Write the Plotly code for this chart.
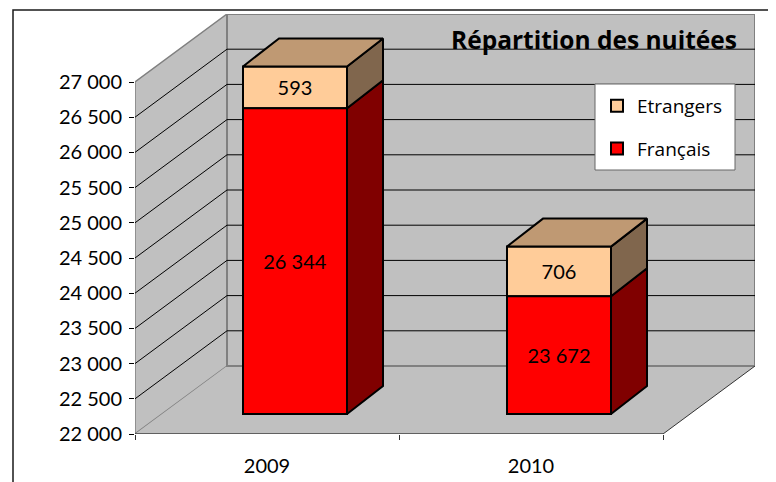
import plotly.graph_objects as go

years = ["2009", "2010"]
francais = [26344, 23672]
etrangers = [593, 706]
francais_labels = ["26 344", "23 672"]
etrangers_labels = ["593", "706"]
y_ticks = [22000, 22500, 23000, 23500, 24000, 24500, 25000, 25500, 26000, 26500, 27000]
y_labels = ["22 000", "22 500", "23 000", "23 500", "24 000", "24 500", "25 000", "25 500", "26 000", "26 500", "27 000"]

# The page keeps its 8 px body margin: the figure fills the rest of the window.
PAGE = 8
W, H = 776 - PAGE, 482 - PAGE
ML, MR, MT, MB = 135 - PAGE, 21, 14 - PAGE, 48
PW, PH = W - ML - MR, H - MT - MB
CAT_PX = 264.0
X_MAX = PW / CAT_PX
VAL_PER_PX = 5000 / 352.0
Y0, Y1 = 22000, 27000
Y_MAX = Y0 + PH * VAL_PER_PX

WALL_DX = X_MAX - 2
WALL_DY = Y_MAX - Y1
BAR_W = 104 / CAT_PX
BAR_DX = 36 / CAT_PX
BAR_DY = 28 * VAL_PER_PX
FRONT_DX = 28 / CAT_PX
FRONT_DY = 20 * VAL_PER_PX
BASE = Y0 + FRONT_DY

WALL = "#C0C0C0"
EDGE = "#808080"
FR, FR_SIDE = "#FF0000", "#800000"
ET, ET_SIDE, ET_TOP = "#FFCC99", "#80664D", "#BF9973"
FONT = "Lato"


def px_x(p):
    return (p - PAGE - ML) / PW


def px_y(p):
    return 1 - (p - PAGE - MT) / PH


def path(points):
    return "M " + " L ".join(f"{x},{y}" for x, y in points) + " Z"


shapes = [
    dict(type="path", xref="x", yref="y", layer="below", fillcolor=WALL, line=dict(color=EDGE, width=1.5),
         path=path([(0, Y0), (WALL_DX, Y0 + WALL_DY), (WALL_DX, Y1 + WALL_DY), (0, Y1)])),
    dict(type="path", xref="x", yref="y", layer="below", fillcolor=WALL, line=dict(width=0),
         path=path([(0, Y0), (2, Y0), (2 + WALL_DX, Y0 + WALL_DY), (WALL_DX, Y0 + WALL_DY)])),
    dict(type="rect", xref="x", yref="y", layer="below", fillcolor=WALL, line=dict(color=EDGE, width=2),
         x0=WALL_DX, x1=2 + WALL_DX, y0=Y0 + WALL_DY, y1=Y1 + WALL_DY),
]
for v in y_ticks[1:-1]:
    shapes.append(dict(type="path", xref="x", yref="y", layer="below", line=dict(color="#000000", width=1),
                       path=f"M 0,{v} L {WALL_DX},{v + WALL_DY} L {2 + WALL_DX},{v + WALL_DY}"))
shapes += [
    dict(type="line", xref="x", yref="y", layer="below", line=dict(color="#000000", width=1),
         x0=0, x1=2, y0=Y0, y1=Y0),
    dict(type="line", xref="x", yref="y", layer="below", line=dict(color="#333333", width=1),
         x0=2, x1=2 + WALL_DX, y0=Y0, y1=Y0 + WALL_DY),
    dict(type="rect", xref="x", yref="y", layer="below", fillcolor="#FFFFFF",
         line=dict(color="#666666", width=1),
         x0=px_x(595) * X_MAX, x1=px_x(735) * X_MAX,
         y0=Y0 + px_y(170) * (Y_MAX - Y0), y1=Y0 + px_y(84) * (Y_MAX - Y0)),
    dict(type="path", xref="paper", yref="paper", layer="above", line=dict(color="#1a1a1a", width=1.5),
         path=f"M {px_x(13)},{px_y(482)} L {px_x(13)},{px_y(10)} L {px_x(776)},{px_y(10)}"),
]

centers = [i + 0.5 + FRONT_DX for i in range(2)]

fig = go.Figure()
fig.add_trace(go.Bar(
    name="Etrangers", legendgroup="et", x=centers, y=etrangers, base=[BASE + v - Y0 for v in francais], width=BAR_W,
    marker=dict(color=ET, line=dict(color="#000000", width=2)),
    text=etrangers_labels, textposition="inside", insidetextanchor="middle", textangle=0,
    insidetextfont=dict(color="#000000", size=20, family=FONT),
))
fig.add_trace(go.Bar(
    name="Français", legendgroup="fr", x=centers, y=[v - Y0 for v in francais], base=BASE, width=BAR_W,
    marker=dict(color=FR, line=dict(color="#000000", width=2)),
    text=francais_labels, textposition="inside", insidetextanchor="middle", textangle=0,
    insidetextfont=dict(color="#000000", size=20, family=FONT),
))


def face(points, color):
    xs = [p[0] for p in points] + [points[0][0]]
    ys = [p[1] for p in points] + [points[0][1]]
    fig.add_trace(go.Scatter(x=xs, y=ys, mode="lines", fill="toself", fillcolor=color,
                             line=dict(color="#000000", width=2), showlegend=False, hoverinfo="skip"))


for c, f, e in zip(centers, francais, etrangers):
    xr = c + BAR_W / 2
    xl = c - BAR_W / 2
    y_f = BASE + f - Y0
    y_t = y_f + e
    face([(xr, BASE), (xr + BAR_DX, BASE + BAR_DY), (xr + BAR_DX, y_f + BAR_DY), (xr, y_f)], FR_SIDE)
    face([(xr, y_f), (xr + BAR_DX, y_f + BAR_DY), (xr + BAR_DX, y_t + BAR_DY), (xr, y_t)], ET_SIDE)
    face([(xl, y_t), (xr, y_t), (xr + BAR_DX, y_t + BAR_DY), (xl + BAR_DX, y_t + BAR_DY)], ET_TOP)

fig.update_layout(
    width=W, height=H, autosize=False,
    margin=dict(l=ML, r=MR, t=MT, b=MB, pad=0),
    paper_bgcolor="#FFFFFF", plot_bgcolor="rgba(0,0,0,0)",
    barmode="overlay", shapes=shapes,
    font=dict(family=FONT, color="#000000"),
    showlegend=True,
    legend=dict(x=px_x(597), y=px_y(87), xanchor="left", yanchor="top", bgcolor="rgba(0,0,0,0)",
                traceorder="grouped", font=dict(family="Open Sans", size=19), tracegroupgap=15),
    xaxis=dict(range=[0, X_MAX], tickmode="array", tickvals=[0.5, 1.5], ticktext=years, ticks="",
               showgrid=False, zeroline=False, showline=False, tickfont=dict(size=20, family=FONT),
               ticklabelstandoff=18,
               minor=dict(tickmode="array", tickvals=[0, 1, 2], ticks="outside", ticklen=5, tickcolor="#333333",
                          showgrid=False)),
    yaxis=dict(range=[Y0, Y_MAX], tickmode="array", tickvals=y_ticks, ticktext=y_labels, ticks="outside",
               ticklen=5, tickcolor="#000000", showgrid=False, zeroline=False, showline=False,
               ticklabelstandoff=3, tickfont=dict(size=20, family=FONT)),
    annotations=[dict(text="<b>Répartition des nuitées</b>", xref="paper", yref="paper",
                      x=px_x(593.5), y=px_y(39), showarrow=False, xanchor="center", yanchor="middle",
                      font=dict(family="Open Sans", size=24.5, color="#000000"))],
)
fig.write_html("out.html", config=dict(displayModeBar=False))
